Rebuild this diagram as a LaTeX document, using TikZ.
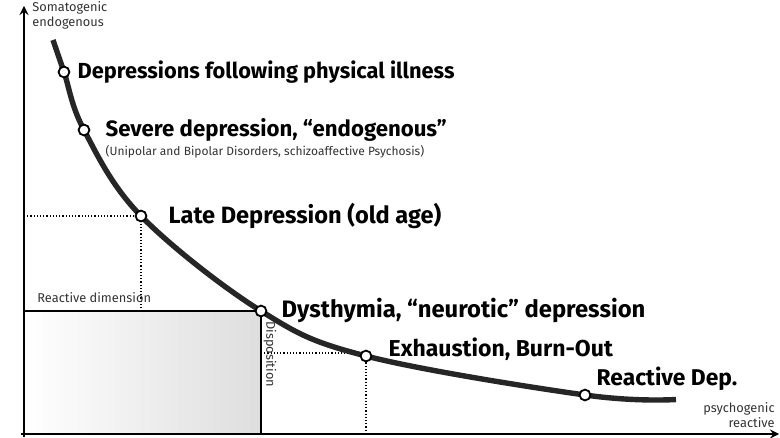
\documentclass[tikz,border=0pt]{standalone}
\usepackage{fontspec}
\setmainfont{Fira Sans}
\usetikzlibrary{positioning}
\tikzset{
	dot/.style={circle,draw,fill=white,line width=0.9pt,inner sep=0pt,minimum size=5.4pt},
	lbl/.style={font=\bfseries\fontsize{#1}{12}\selectfont,inner sep=0pt,anchor=west},
	lbl/.default=11.2,
	small/.style={font=\fontsize{6.4}{7.4}\selectfont,inner sep=0pt,text=black!80},
	guide/.style={densely dotted,line width=0.6pt},
}

\begin{document}
\begin{tikzpicture}[x=0.5pt,y=-0.5pt]
	\useasboundingbox (0,0) rectangle (780,438);
	
	%POINTS ON THE CURVE
	\coordinate (p0) at (53,40);
	\coordinate (p1) at (64,72);
	\coordinate (p2) at (84,130);
	\coordinate (p3) at (141,216);
	\coordinate (p4) at (261,311);
	\coordinate (p5) at (366,356);
	\coordinate (p6) at (585,395);
	\coordinate (p7) at (676,399.5);
	\coordinate (o)    at (24,434);
	\coordinate (ytop) at (24,6);
	\coordinate (xend) at (779,434);
	
	%BOX
	\shade[left color=white,right color=black!13] (o) rectangle (p4);
	\draw[line width=0.6pt] (o |- p4) -- (p4) -- (p4 |- o);
	
	%DOTTED GUIDES
	\draw[guide] (o |- p3) -- (p3) -- (p3 |- p4);
	\draw[guide] (p4 |- 0,353) -- (366,353);
	\draw[guide] (p5) -- (p5 |- o);
	
	%AXES
	\draw[line width=1pt,->,>=stealth] (24,437) -- (ytop);
	\draw[line width=1pt,->,>=stealth] (21,434) -- (xend);
	
	%CURVE
	\draw[line width=2.7pt,black!85] plot[smooth,tension=0.6] coordinates {(p0) (p1) (p2) (p3) (p4) (p5) (p6) (p7)};
	\foreach \n in {1,...,6}
		\node[dot] (d\n) at (p\n) {};
	
	%LABELS
	\node[lbl=10.9, right=3.5pt of d1] (t1) {Depressions following physical illness};
	\node[lbl=11.1, right=7.5pt of d2] (t2) {Severe depression, \char"201Cendogenous\char"201D};
	\node[small, font=\fontsize{6}{7}\selectfont, below=1.5pt of t2.south west, anchor=north west] (t2b) {(Unipolar and Bipolar Disorders, schizoaffective Psychosis)};
	\node[lbl=11.8, right=10.5pt of d3] (t3) {Late Depression (old age)};
	\node[lbl=11.9, right=7pt of d4, yshift=0.5pt] (t4) {Dysthymia, \char"201Cneurotic\char"201D\ depression};
	\node[lbl=11.5, right=8pt of d5, yshift=3.5pt] (t5) {Exhaustion, Burn-Out};
	\node[lbl=11.4, right=2.5pt of d6, yshift=8pt] (t6) {Reactive Dep.};
	
	%AXIS AND BOX TEXTS
	\node[small, align=left, anchor=north west] (ya) at (32,1) {Somatogenic\\endogenous};
	\node[small, align=right, anchor=south east] (xa) at (775,428) {psychogenic\\reactive};
	\node[small, anchor=west] (rd) at (37,298) {Reactive dimension};
	\node[small, rotate=-90, anchor=west] (dp) at (270,321) {Disposition};
\end{tikzpicture}
\end{document}
